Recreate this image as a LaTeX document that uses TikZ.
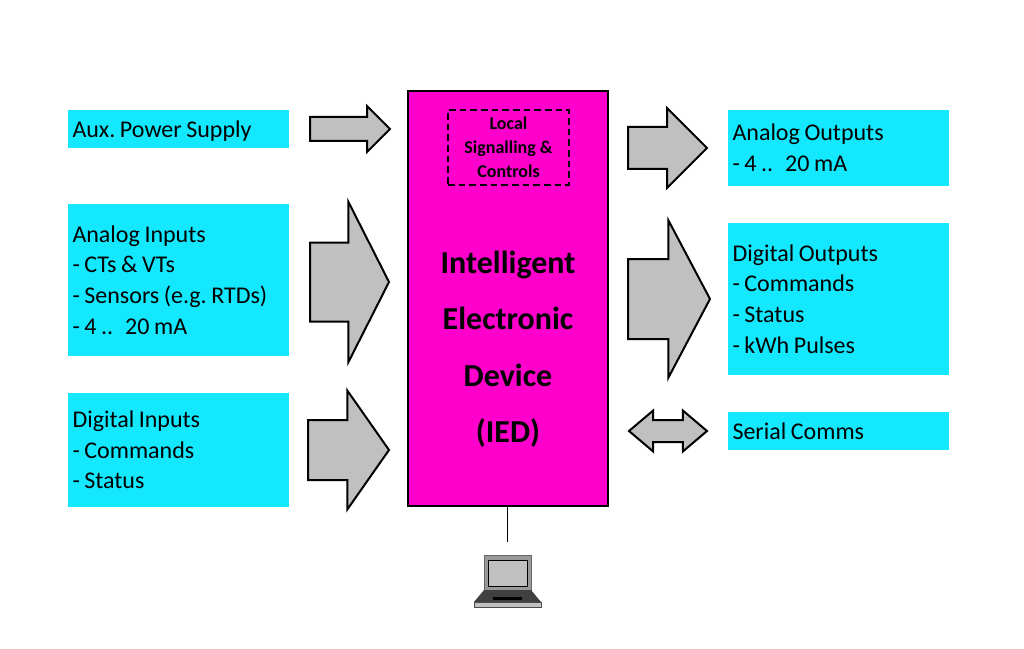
\documentclass[tikz,border=0pt]{standalone}
\usepackage{fontspec}
\setmainfont{Carlito}
\usetikzlibrary{shapes.arrows}

\def\px{0.75pt}
\definecolor{boxcyan}{RGB}{19,232,255}
\definecolor{iedpink}{RGB}{255,0,204}
\definecolor{arrowgray}{RGB}{192,192,192}

\begin{document}
\begin{tikzpicture}[x=\px,y=-\px,
  infobox/.style={fill=boxcyan,minimum width=221*\px,inner sep=0pt,outer sep=0pt,
    text width=212*\px,align=left,font=\fontsize{18}{23}\selectfont,
    execute at begin node={\spaceskip=0.19em\relax}},
  blockarrow/.style n args={4}{single arrow,draw=black,fill=arrowgray,line width=1.5pt,
    anchor=tail,outer sep=0pt,inner xsep=0pt,inner ysep=#2/2*\px,
    minimum height=#1*\px,single arrow head extend={(#3-#2)/2*\px},
    single arrow head indent=0pt,single arrow tip angle={2*atan(#3/2/#4)}},
  bothways/.style n args={4}{double arrow,draw=black,fill=arrowgray,line width=1.5pt,
    outer sep=0pt,inner xsep=0pt,inner ysep=#2/2*\px,
    minimum height=#1*\px,double arrow head extend={(#3-#2)/2*\px},
    double arrow head indent=0pt,double arrow tip angle={2*atan(#3/2/#4)}}]
  \useasboundingbox (0,0) rectangle (1024,649);

  % inputs
  \node[infobox,minimum height=38*\px,text depth=0pt]  (auxpower) at (178.5,129)
    {Aux.\ Power Supply};
  \node[infobox,minimum height=152*\px] (analogin) at (178.5,280)
    {Analog Inputs\\- CTs \& VTs\\- Sensors (e.g.\ RTDs)\\- 4 .. 20 mA};
  \node[infobox,minimum height=114*\px] (digitalin) at (178.5,450)
    {Digital Inputs\\- Commands\\- Status};

  % outputs
  \node[infobox,minimum height=76*\px]  (analogout) at (838.5,148)
    {Analog Outputs\\- 4 .. 20 mA};
  \node[infobox,minimum height=152*\px] (digitalout) at (838.5,299)
    {Digital Outputs\\- Commands\\- Status\\- kWh Pulses};
  \node[infobox,minimum height=38*\px]  (serial) at (838.5,431)
    {Serial Comms};

  % the device
  \node[draw=black,fill=iedpink,line width=1.5pt,minimum width=200*\px,minimum height=415*\px,
    outer sep=0pt] (ied) at (508,298.5) {};
  \node[font=\fontsize{24}{42.4}\selectfont\bfseries,align=center] (iedname) at (508,349)
    {Intelligent\\Electronic\\Device\\(IED)};
  \node[draw=black,dash pattern=on 5pt off 3pt,line width=1.2pt,minimum width=121*\px,minimum height=75*\px,
    inner sep=0pt,align=center,font=\fontsize{13.5}{18}\selectfont\bfseries] (local) at (508.5,147.5)
    {Local\\Signalling \&\\Controls};

  % block arrows
  \node[blockarrow={80}{22}{44}{22}]   (auxarrow) at (310,129) {};
  \node[blockarrow={79}{77}{158}{40}]  (anaarrow) at (310,282) {};
  \node[blockarrow={81}{58}{117}{41}]  (digarrow) at (308,450) {};
  \node[blockarrow={79}{40}{78}{39}]   (aoutarrow) at (628,148) {};
  \node[blockarrow={82}{78}{155}{41}]  (doutarrow) at (628,299) {};
  \node[bothways={78}{20}{39}{23}]     (commsarrow) at (668,431) {};

  % laptop on the service port
  \coordinate (cable) at (507.5,542);
  \draw[line width=0.9pt] (cable |- ied.south) -- (cable);
  \draw[fill=gray!80,draw=black!60,line width=0.5pt] (484,555) rectangle (531,590);
  \draw[fill=arrowgray,draw=black,line width=0.7pt] (488,560) rectangle (527,586);
  \fill[black!75] (484,590) -- (531,590) -- (541,602) -- (474,602) -- cycle;
  \fill[black] (493,597) rectangle (522,600);
  \draw[fill=arrowgray,draw=black!70,line width=0.5pt] (474,602) rectangle (541,607);
\end{tikzpicture}
\end{document}
